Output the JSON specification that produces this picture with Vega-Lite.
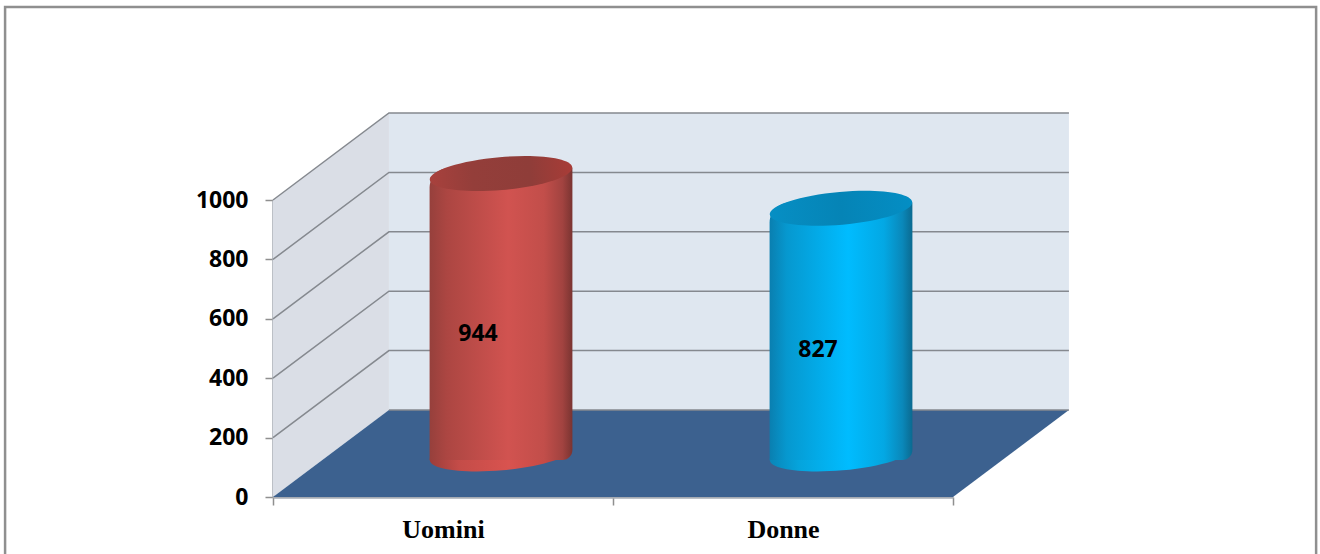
{
"$schema":"https://vega.github.io/schema/vega-lite/v6.json",
"width":680,"height":297,
"autosize":{"type":"none"},
"padding":{"left":273,"top":200,"right":367,"bottom":57},
"background":"white",
"config":{"view":{"stroke":null}},
"datasets":{
"frame":[{"x0":-0.788,"x1":3.068,"y0":-215,"y1":1650}],
"back":[{"x0":0.341,"x1":2.341,"y0":293,"y1":1293}],
"side":[{"x":0,"lo":0,"hi":1000},{"x":0.341,"lo":293,"hi":1293}],
"floor":[{"y":0,"x0":0,"x1":2},{"y":293,"x0":0.341,"x1":2.341}],
"grid":[
{"level":1000,"x":0,"y":1000},{"level":1000,"x":0.341,"y":1293},{"level":1000,"x":2.341,"y":1293},
{"level":800,"x":0,"y":800},{"level":800,"x":0.341,"y":1093},{"level":800,"x":2.341,"y":1093},
{"level":600,"x":0,"y":600},{"level":600,"x":0.341,"y":893},{"level":600,"x":2.341,"y":893},
{"level":400,"x":0,"y":400},{"level":400,"x":0.341,"y":693},{"level":400,"x":2.341,"y":693},
{"level":200,"x":0,"y":200},{"level":200,"x":0.341,"y":493},{"level":200,"x":2.341,"y":493},
{"level":0,"x":0.341,"y":293},{"level":0,"x":2.341,"y":293}
],
"persone":[{"genere":"Uomini","valore":944},{"genere":"Donne","valore":827}]
},
"resolve":{"scale":{"x":"independent","y":"independent"}},
"layer":[
{"layer":[
{"data":{"name":"frame"},"mark":{"type":"rect","fill":null,"stroke":"#8f8f8f","strokeWidth":2.5},
"encoding":{
"x":{"field":"x0","type":"quantitative","scale":{"domain":[0,2],"nice":false,"zero":false},
"axis":{"orient":"bottom","title":null,"values":[0,1,2],"labels":false,"grid":false,"domainColor":"#a6abb3","domainWidth":2.5,"tickColor":"#8f8f8f","tickWidth":1.5,"tickSize":8}},
"x2":{"field":"x1"},
"y":{"field":"y0","type":"quantitative","scale":{"domain":[0,1000],"nice":false,"zero":false},
"axis":{"orient":"left","title":null,"values":[0,200,400,600,800,1000],"format":"d","grid":false,"domainColor":"#a6abb3","domainWidth":2.5,"tickColor":"#8f8f8f","tickWidth":1.5,"tickSize":8,"labelPadding":17,"labelFont":"Open Sans","labelFontWeight":"bold","labelFontSize":23,"labelColor":"#000000"}},
"y2":{"field":"y1"}}},
{"data":{"name":"back"},"mark":{"type":"rect","fill":"#dfe7f0"},
"encoding":{"x":{"field":"x0","type":"quantitative"},"x2":{"field":"x1"},"y":{"field":"y0","type":"quantitative"},"y2":{"field":"y1"}}},
{"data":{"name":"side"},"mark":{"type":"area","orient":"vertical","fill":"#dadee6"},
"encoding":{"x":{"field":"x","type":"quantitative"},"y":{"field":"lo","type":"quantitative"},"y2":{"field":"hi"}}},
{"data":{"name":"floor"},"mark":{"type":"area","orient":"horizontal","fill":"#3c618f"},
"encoding":{"y":{"field":"y","type":"quantitative"},"x":{"field":"x0","type":"quantitative"},"x2":{"field":"x1"}}},
{"data":{"name":"grid"},"mark":{"type":"line","stroke":"#85898f","strokeWidth":1.5},
"encoding":{"x":{"field":"x","type":"quantitative"},"y":{"field":"y","type":"quantitative"},"detail":{"field":"level"}}}
]},
{"data":{"name":"persone"},
"encoding":{
"x":{"field":"genere","type":"nominal","sort":null,"scale":{"domain":["Uomini","Donne"],"range":[58,738],"paddingInner":0.58,"paddingOuter":0.29},"axis":null}
},
"layer":[
{"transform":[{"filter":"datum.genere === 'Uomini'"}],"layer":[
{"mark":{"type":"point","filled":true,"opacity":1,"shape":"M-1,0A1,0.23 0 1,1 1,0A1,0.23 0 1,1 -1,0Z","size":20449,"fill":{"gradient":"linear","stops":[{"offset":0,"color":"#9c3d3a"},{"offset":0.2,"color":"#c44c48"},{"offset":0.55,"color":"#d9534f"},{"offset":0.8,"color":"#c74a45"},{"offset":1,"color":"#9c3d3a"}]}},
"encoding":{"y":{"datum":0,"type":"quantitative","scale":{"domain":[-145,855],"nice":false,"zero":false},"axis":null},"angle":{"value":-5}}},
{"mark":{"type":"bar","cornerRadiusTopLeft":20,"cornerRadiusBottomRight":10,"fill":{"gradient":"linear","stops":[{"offset":0,"color":"#96403c"},{"offset":0.12,"color":"#ac4642"},{"offset":0.55,"color":"#d15350"},{"offset":0.8,"color":"#c24e4a"},{"offset":0.93,"color":"#a24340"},{"offset":1,"color":"#7a3431"}]}},
"encoding":{"y":{"field":"valore","type":"quantitative","scale":{"domain":[-165,835],"nice":false,"zero":false},"axis":null},"y2":{"datum":-40}}},
{"mark":{"type":"point","filled":true,"opacity":1,"shape":"M-1,0A1,0.23 0 1,1 1,0A1,0.23 0 1,1 -1,0Z","size":20449,"fill":{"gradient":"linear","stops":[{"offset":0,"color":"#a8413d"},{"offset":0.3,"color":"#943e3a"},{"offset":0.7,"color":"#8f3d39"},{"offset":1,"color":"#a83c37"}]}},
"encoding":{"y":{"field":"valore","type":"quantitative","scale":{"domain":[-145,855],"nice":false,"zero":false},"axis":null},"angle":{"value":-5}}}
],"resolve":{"scale":{"y":"independent"}}},
{"transform":[{"filter":"datum.genere === 'Donne'"}],"layer":[
{"mark":{"type":"point","filled":true,"opacity":1,"shape":"M-1,0A1,0.23 0 1,1 1,0A1,0.23 0 1,1 -1,0Z","size":20449,"fill":{"gradient":"linear","stops":[{"offset":0,"color":"#0a86b8"},{"offset":0.2,"color":"#05a4dc"},{"offset":0.55,"color":"#00bcff"},{"offset":0.8,"color":"#05a4dc"},{"offset":1,"color":"#0a7aa8"}]}},
"encoding":{"y":{"datum":0,"type":"quantitative","scale":{"domain":[-145,855],"nice":false,"zero":false},"axis":null},"angle":{"value":-5}}},
{"mark":{"type":"bar","cornerRadiusTopLeft":20,"cornerRadiusBottomRight":10,"fill":{"gradient":"linear","stops":[{"offset":0,"color":"#0a7fb0"},{"offset":0.12,"color":"#0698cf"},{"offset":0.55,"color":"#00bcff"},{"offset":0.8,"color":"#03a8e4"},{"offset":0.93,"color":"#0a88ba"},{"offset":1,"color":"#0b6a90"}]}},
"encoding":{"y":{"field":"valore","type":"quantitative","scale":{"domain":[-165,835],"nice":false,"zero":false},"axis":null},"y2":{"datum":-40}}},
{"mark":{"type":"point","filled":true,"opacity":1,"shape":"M-1,0A1,0.23 0 1,1 1,0A1,0.23 0 1,1 -1,0Z","size":20449,"fill":{"gradient":"linear","stops":[{"offset":0,"color":"#068fc4"},{"offset":0.5,"color":"#0584b6"},{"offset":1,"color":"#048ec4"}]}},
"encoding":{"y":{"field":"valore","type":"quantitative","scale":{"domain":[-145,855],"nice":false,"zero":false},"axis":null},"angle":{"value":-5}}}
],"resolve":{"scale":{"y":"independent"}}}
],"resolve":{"scale":{"y":"independent"}}},
{"data":{"name":"persone"},
"mark":{"type":"text","dx":35,"font":"Open Sans","fontWeight":"bold","fontSize":23,"color":"#000000","baseline":"middle"},
"encoding":{
"x":{"field":"genere","type":"nominal","sort":null,"scale":{"domain":["Uomini","Donne"]},
"axis":{"orient":"bottom","title":null,"ticks":false,"domain":false,"grid":false,"labelAngle":0,"labelBaseline":"top","labelPadding":19,"labelFont":"Liberation Serif","labelFontWeight":"bold","labelFontSize":26,"labelColor":"#000000"}},
"y":{"field":"valore","type":"quantitative","scale":{"domain":[0,1000],"range":[263.5,126.7],"nice":false,"zero":false},"axis":null},
"text":{"field":"valore","type":"quantitative"}
}}
]
}
